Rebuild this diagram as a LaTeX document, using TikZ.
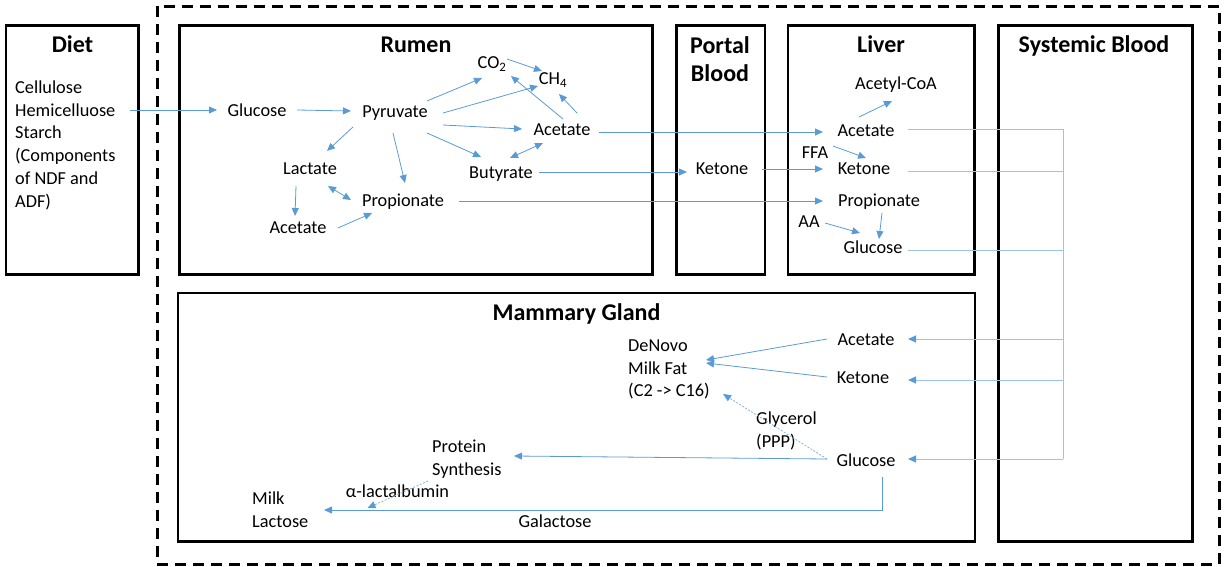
\documentclass[tikz,border=0pt]{standalone}
\usepackage{fontspec}
\setmainfont{Carlito}
\usetikzlibrary{arrows.meta,calc}
\definecolor{ablue}{HTML}{5B9BD5}
\definecolor{alight}{HTML}{9DC3E6}
\begin{document}
\begin{tikzpicture}[x=1pt,y=-1pt,
  txt/.style={font=\fontsize{18.3}{22.8}\selectfont, inner sep=0pt, text height=13.5pt, text depth=0.5pt},
  mtxt/.style={font=\fontsize{18.3}{22.8}\selectfont, inner sep=0pt, align=left, anchor=north west},
  ttl/.style={font=\fontsize{24}{28.5}\selectfont\bfseries, inner sep=0pt, anchor=base},
  box/.style={draw, line width=2.7pt},
  arr/.style={draw=ablue, line width=0.8pt, -{Triangle[length=8pt,width=7pt]}},
  darr/.style={draw=ablue, line width=0.8pt, {Triangle[length=8pt,width=7pt]}-{Triangle[length=8pt,width=7pt]}},
  lline/.style={draw=alight, line width=1pt},
  larr/.style={draw=alight, line width=1pt, -{Triangle[length=8pt,width=7pt,color=ablue]}},
  dotarr/.style={draw=ablue!75, line width=0.8pt, dash pattern=on 2pt off 1.5pt, -{Triangle[length=8pt,width=7pt,color=ablue]}}
]
\useasboundingbox (0,0) rectangle (1225,567);
% boxes
\draw[line width=3pt, dash pattern=on 11pt off 7pt] (157,6.3) rectangle (1219,564.3);
\draw[box] (6,25.5) rectangle (138.5,274.5);
\draw[box] (179.5,25.5) rectangle (652.5,274.5);
\draw[box] (676.5,25.5) rectangle (765,274.5);
\draw[box] (788,25.5) rectangle (974.5,274.5);
\draw[box] (998.5,25.5) rectangle (1192.5,541.5);
\draw[box] (178,293) rectangle (975,541.5);
% titles
\node[ttl] (tdiet) at (72.5,53) {Diet};
\node[ttl] (trumen) at (416,53) {Rumen};
\node[ttl, anchor=north, align=center] (tportal) at (720,33) {\rule{0pt}{20pt}Portal\\Blood};
\node[ttl] (tliver) at (881,53) {Liver};
\node[ttl] (tsys) at (1094,53) {Systemic Blood};
\node[ttl] (tmam) at (576.5,320) {Mammary Gland};
% diet
\node[mtxt] (diet) at (15,79) {\rule{0pt}{14pt}Cellulose\\Hemicelluose\\Starch\\(Components\\of NDF and\\ADF)};
% rumen
\node[txt] (glu) at (257,110) {Glucose};
\node[txt] (pyr) at (395,111) {Pyruvate};
\node[txt] (lact) at (310,168) {Lactate};
\node[txt] (propR) at (403,200) {Propionate};
\node[txt] (acetL) at (298,227) {Acetate};
\node[txt] (co2) at (492,62) {CO\textsubscript{2}};
\node[txt] (ch4) at (553,78) {CH\textsubscript{4}};
\node[txt] (acetR) at (562,129) {Acetate};
\node[txt] (but) at (501,172) {Butyrate};
% portal
\node[txt] (ketP) at (722,168) {Ketone};
% liver
\node[txt] (acoa) at (896,83) {Acetyl-CoA};
\node[txt] (acetLv) at (866,130) {Acetate};
\node[txt] (ffa) at (815,152) {FFA};
\node[txt] (ketLv) at (864,168) {Ketone};
\node[txt] (propLv) at (879,200) {Propionate};
\node[txt] (aa) at (809,221) {AA};
\node[txt] (gluLv) at (873,247) {Glucose};
% mammary
\node[txt] (mAc) at (866,339) {Acetate};
\node[txt] (mKet) at (863,377) {Ketone};
\node[txt] (mGlu) at (866,460) {Glucose};
\node[mtxt] (denovo) at (628,337) {\rule{0pt}{14pt}DeNovo\\Milk Fat\\(C2 -> C16)};
\node[mtxt] (glyc) at (756,410) {\rule{0pt}{14pt}Glycerol\\(PPP)};
\node[mtxt] (prot) at (432,438) {\rule{0pt}{14pt}Protein\\Synthesis};
\node[txt] (alpha) at (397.5,491) {α-lactalbumin};
\node[mtxt] (milk) at (252,490) {\rule{0pt}{14pt}Milk\\Lactose};
\node[txt] (galac) at (555,521) {Galactose};
% rumen arrows
\draw[arr] ($(diet.north west)+(115,31)$) -- ($(glu)+(-40,0)$);
\draw[arr] ($(glu)+(40,0)$) -- ($(pyr)+(-44,0)$);
\draw[arr] ($(pyr)+(-42,16)$) -- ($(lact)+(17,-17)$);
\draw[arr] ($(pyr)+(-2,22)$) -- ($(propR)+(2,-17)$);
\draw[darr] ($(lact)+(18,18)$) -- ($(propR)+(-52,0)$);
\draw[arr] ($(lact)+(-14,18)$) -- ($(acetL)+(-3,-11)$);
\draw[arr] ($(acetL)+(40,1)$) -- ($(propR)+(-31,13)$);
\draw[arr] ($(pyr)+(32,-10)$) -- ($(co2)+(-10,16)$);
\draw[arr] ($(pyr)+(48,2)$) -- ($(ch4)+(-15,8)$);
\draw[arr] ($(pyr)+(48,14)$) -- ($(acetR)+(-40,0)$);
\draw[arr] ($(pyr)+(32,22)$) -- ($(but)+(-20,-15)$);
\draw[arr] ($(co2)+(15,-3)$) -- ($(ch4)+(-11,-7)$);
\draw[arr] ($(acetR)+(1,-10)$) -- ($(co2)+(19,14)$);
\draw[arr] ($(acetR)+(15,-16)$) -- ($(ch4)+(6,16)$);
\draw[darr] ($(but)+(9,-14)$) -- ($(acetR)+(-19,14)$);
% to portal / liver
\draw[arr] ($(acetR)+(37,3)$) -- ($(acetLv)+(-43,2)$);
\draw[arr] ($(but)+(38,0)$) -- ($(ketP)+(-35,4)$);
\draw[arr] ($(ketP)+(40,1)$) -- ($(ketLv)+(-41,1)$);
\draw[arr] ($(propR)+(56,1)$) -- ($(propLv)+(-56,1)$);
% liver arrows
\draw[arr] ($(acetLv)+(-7,-13)$) -- ($(acoa)+(-4,18)$);
\draw[arr] ($(ffa)+(18,-6)$) -- ($(ketLv)+(2,-10)$);
\draw[arr] ($(propLv)+(3,13)$) -- ($(gluLv)+(6,-8)$);
\draw[arr] ($(aa)+(16,2)$) -- ($(gluLv)+(-13,-14)$);
% systemic routing
\coordinate (jt) at (1063,129);
\coordinate (jb) at (1063,459);
\draw[lline] ($(acetLv)+(42,-1)$) -- (jt);
\draw[lline] ($(ketLv)+(44,3)$) coordinate (k0) -- (k0 -| jt);
\draw[lline] ($(gluLv)+(35,3)$) coordinate (g0) -- (g0 -| jt);
\draw[lline] (jt) -- (jb);
\draw[larr] ($(mAc)+(42,0)$) coordinate (m0) ++(155,0) -- (m0);
\draw[larr] ($(mKet)+(45,3)$) coordinate (m1) ++(155,0) -- (m1);
\draw[larr] (jb) -- ($(mGlu)+(42,-1)$);
% mammary arrows
\draw[arr] ($(mAc)+(-39,0)$) -- ($(denovo.north west)+(78,23)$);
\draw[arr] ($(mKet)+(-36,0)$) -- ($(denovo.north west)+(78,26)$);
\draw[dotarr] ($(mGlu)+(-39,-1)$) -- ($(denovo.north west)+(95,57)$);
\draw[arr] ($(mGlu)+(-39,-1)$) -- ($(prot.north west)+(82,18)$);
\draw[arr] ($(mGlu)+(16,17)$) |- ($(milk.north west)+(72,20)$);
\draw[dotarr] ($(prot.north west)+(-4,43)$) -- ($(alpha)+(-30,17)$);
\end{tikzpicture}
\end{document}
